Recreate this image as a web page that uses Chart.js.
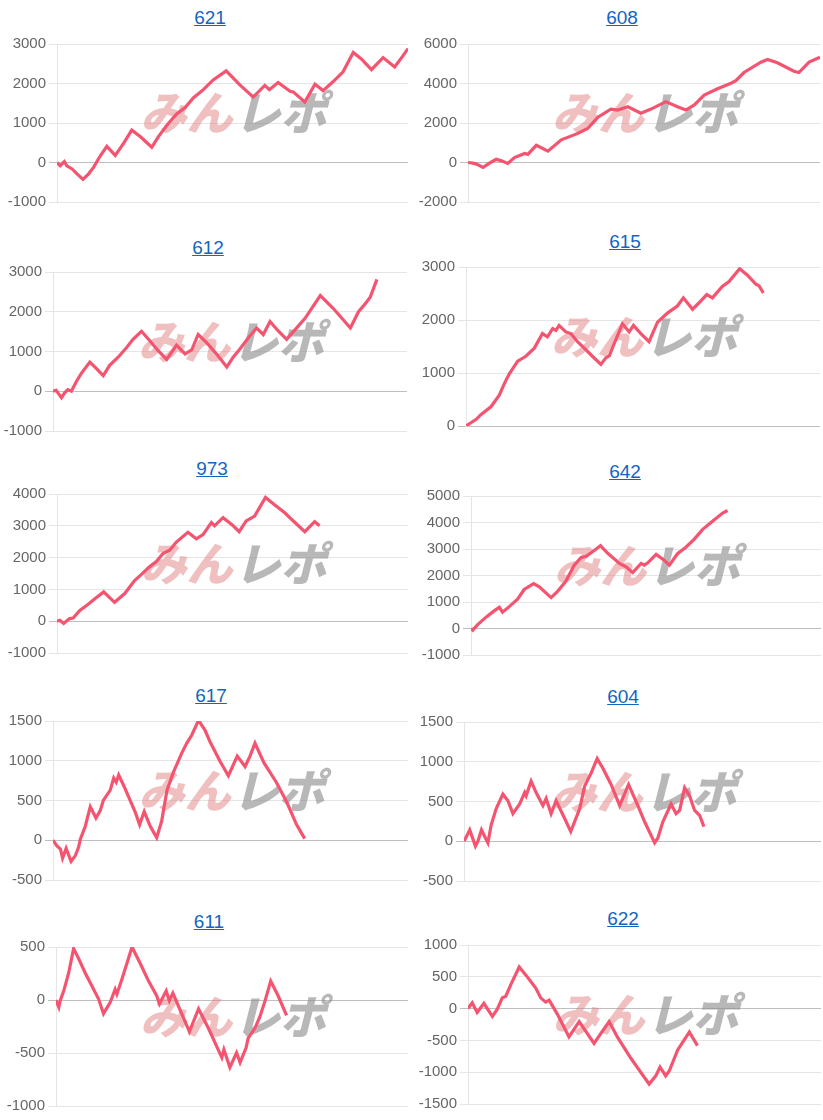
<!DOCTYPE html>
<html>
<head>
<meta charset="utf-8">
<script src="https://cdn.jsdelivr.net/npm/chart.js@4.4.1/dist/chart.umd.min.js"></script>
<style>
  body { margin: 0; background: #fff; width: 823px; height: 1120px; position: relative; overflow: hidden; }
  .ttl { position: absolute; width: 120px; text-align: center; font: 19px "Liberation Sans", Arial, sans-serif; }
  .ttl a { color: #1565c0; text-decoration: underline; }
  canvas { position: absolute; }
</style>
</head>
<body>
<script>
// machine numbers
const titles = ['621', '608', '612', '615', '973', '642', '617', '604', '611', '622'];

// y axis ranges [min, max, step]
const yRanges = [
  [-1000, 3000, 1000], [-2000, 6000, 2000],
  [-1000, 3000, 1000], [0, 3000, 1000],
  [-1000, 4000, 1000], [-1000, 5000, 1000],
  [-500, 1500, 500],   [-500, 1500, 500],
  [-1000, 500, 500],   [-1500, 1000, 500]
];

// series: [progress %, 差枚]
const s621 = [[0,0],[0.9,-82],[2.1,25],[2.8,-82],[4.3,-164],[5.7,-287],[7.4,-426],[9.0,-287],[10.4,-123],[12.3,164],[14.2,410],[16.6,180],[19.0,492],[21.3,820],[23.7,656],[27.0,385],[28.9,656],[31.3,943],[34.1,1230],[36.5,1393],[38.9,1639],[41.7,1844],[44.5,2090],[48.2,2320],[52.1,1967],[55.9,1656],[59.2,1951],[60.5,1844],[63.0,2025],[66.4,1803],[67.3,1787],[70.6,1533],[73.5,1984],[75.8,1820],[78.7,2049],[81.5,2295],[84.4,2787],[86.7,2623],[89.6,2352],[92.9,2656],[96.2,2418],[98.6,2705],[100,2885]];
const s608 = [[0,0],[1.4,-33],[2.4,-82],[4.3,-246],[6.1,-33],[8.0,164],[9.5,82],[11.3,-49],[13.2,246],[16.1,459],[17.0,410],[19.4,869],[22.7,574],[26.5,1147],[31.2,1475],[34.0,1721],[36.9,2295],[40.6,2704],[42.5,2655],[45.4,2820],[49.1,2491],[52.0,2704],[56.2,3081],[59.5,2820],[61.9,2655],[64.3,2918],[67.1,3410],[70.9,3737],[74.7,4016],[76.1,4147],[78.4,4557],[83.2,5081],[85.1,5212],[87.9,5048],[92.6,4622],[94.0,4557],[96.9,5081],[100,5327]];
const s612 = [[0,0],[0.9,24],[1.4,-41],[2.4,-163],[3.3,-41],[4.2,41],[5.2,0],[6.6,245],[8.0,449],[10.4,734],[11.8,612],[14.2,392],[16.0,653],[18.4,857],[20.8,1102],[22.6,1306],[25.0,1510],[27.4,1265],[29.7,1020],[32.1,800],[34.9,1159],[37.3,938],[39.2,1044],[41.0,1428],[43.4,1224],[46.2,938],[49.1,612],[50.9,857],[52.8,1061],[55.2,1347],[57.5,1591],[59.4,1428],[61.3,1754],[63.7,1510],[66.0,1306],[68.4,1550],[71.2,1836],[75.5,2407],[79.2,2081],[84.0,1591],[86.3,2000],[88.2,2203],[89.6,2366],[91.5,2815]];
const s615 = [[0,0],[1.4,61],[2.8,122],[4.2,214],[7.1,367],[9.4,581],[10.8,796],[12.2,979],[14.6,1224],[16.9,1316],[19.3,1469],[21.6,1744],[23.0,1683],[24.5,1836],[25.4,1805],[26.3,1897],[28.2,1775],[29.6,1744],[31.5,1591],[33.4,1469],[35.7,1316],[38.1,1163],[39.5,1285],[40.5,1328],[41.9,1561],[44.2,1928],[46.1,1775],[47.3,1897],[49.4,1744],[51.7,1591],[54.1,1958],[56.9,2130],[59.7,2264],[61.4,2418],[64.0,2203],[66.3,2356],[68.0,2479],[69.6,2418],[72.4,2632],[74.3,2724],[77.3,2968],[79.5,2846],[81.8,2681],[82.8,2644],[84.0,2509]];
const s973 = [[0,0],[0.8,31],[1.9,-72],[3.6,82],[4.6,102],[6.5,338],[8.8,522],[10.7,696],[13.3,922],[16.4,594],[19.3,870],[22.1,1280],[24.0,1464],[25.9,1669],[28.3,1874],[30.2,2130],[32.1,2232],[34.0,2488],[37.3,2796],[39.7,2591],[41.6,2724],[44.0,3103],[44.9,3000],[47.3,3256],[50.2,3000],[51.9,2816],[53.9,3154],[56.3,3307],[59.4,3891],[62.5,3615],[64.9,3410],[66.8,3205],[70.6,2816],[73.4,3133],[74.8,3000]];
const s642 = [[0,0],[0.5,-61],[1.9,147],[4.3,429],[6.7,675],[8.1,798],[9.0,614],[11.0,834],[13.3,1104],[15.2,1472],[17.9,1693],[19.5,1571],[22.9,1166],[24.8,1411],[27.1,1779],[29.5,2393],[31.4,2675],[32.9,2724],[35.2,2945],[37.0,3129],[39.0,2847],[42.4,2454],[44.3,2331],[46.2,2110],[48.6,2454],[49.5,2393],[50.5,2479],[52.9,2798],[55.2,2577],[56.7,2393],[59.0,2822],[61.4,3068],[63.8,3375],[66.2,3742],[69.0,4049],[71.9,4356],[73.3,4454]];
const s617 = [[0,0],[1.1,-70],[2.1,-111],[2.7,-226],[3.7,-103],[5.1,-267],[6.3,-193],[7.2,-90],[7.7,12],[9.1,176],[10.5,422],[12.1,279],[13.3,373],[14.2,504],[16.1,627],[17.1,783],[17.8,730],[18.5,820],[19.9,689],[21.3,545],[23.1,361],[24.4,197],[25.7,361],[27.4,176],[29.2,33],[30.6,238],[32.1,627],[33.9,853],[36.3,1099],[37.7,1222],[39.1,1324],[41.0,1509],[42.8,1386],[44.2,1242],[47.0,996],[49.4,812],[51.9,1058],[54.1,927],[55.5,1058],[56.9,1222],[59.4,976],[62.9,730],[65.8,484],[68.6,197],[70.9,20]];
const s604 = [[0,0],[0.7,61],[1.6,143],[3.2,-61],[3.9,0],[4.9,143],[6.0,41],[6.7,-20],[7.6,204],[9.0,408],[10.9,592],[12.3,510],[13.7,347],[15.6,469],[17.0,612],[17.4,571],[18.8,755],[20.2,612],[22.1,449],[23.0,539],[24.4,347],[25.8,510],[28.2,286],[29.9,122],[32.4,408],[33.8,694],[35.6,857],[37.3,1040],[38.9,918],[41.2,714],[43.6,449],[46.1,714],[48.7,449],[50.6,245],[53.4,-20],[54.3,41],[55.7,245],[58.0,469],[59.4,347],[60.4,388],[61.8,673],[63.2,571],[64.6,388],[66.0,326],[67.2,184]];
const s611 = [[0,0],[0.8,-68],[1.2,-6],[2.2,86],[3.6,255],[5.0,485],[6.4,393],[8.3,255],[10.2,132],[12.1,9],[13.5,-129],[15.4,-21],[16.8,101],[17.3,55],[18.7,193],[21.6,500],[23.9,347],[26.3,178],[28.6,40],[29.4,-37],[31.3,86],[32.2,-6],[33.2,64],[35.3,-98],[37.9,-298],[40.5,-83],[43.3,-267],[45.2,-405],[47.1,-543],[47.7,-467],[49.4,-635],[51.3,-497],[52.3,-589],[54.0,-451],[54.6,-359],[56.5,-267],[57.9,-160],[59.4,-6],[61.0,178],[63.1,40],[65.5,-144]];
const s622 = [[0,0],[1.2,92],[2.6,-61],[4.5,82],[6.9,-123],[8.3,-10],[9.7,169],[10.7,194],[12.1,373],[14.5,654],[16.4,526],[19.2,322],[20.6,169],[22.0,102],[23.0,133],[25.3,-87],[28.6,-445],[31.5,-204],[35.7,-547],[37.6,-393],[40.0,-204],[42.3,-445],[46.1,-777],[49.0,-1007],[51.3,-1186],[53.2,-1058],[54.4,-920],[56.0,-1058],[57.0,-982],[59.4,-649],[62.7,-368],[65.0,-583]];

const series = [s621, s608, s612, s615, s973, s642, s617, s604, s611, s622];

// plot boxes on the page: [left, top, right, bottom, titleCenterX, titleTop]
const boxes = [
  [57, 42, 408, 204, 210, 7],    [468, 42, 820, 204, 622, 7],
  [53, 270, 407, 433, 208, 237], [466, 265, 820, 428, 625, 231],
  [57, 492, 408, 655, 212, 458], [471, 494, 821, 657, 625, 461],
  [53, 719, 408, 882, 211, 685], [464, 720, 821, 883, 623, 686],
  [56, 945, 408, 1108, 209, 911],[468, 943, 821, 1106, 623, 908]
];

const AXIS_W = 52, PAD = 10, PAD_R = 2;

// watermark logo behind the line
const watermark = {
  id: 'watermark',
  beforeDatasetsDraw(chart) {
    const a = chart.chartArea;
    const cx = (a.left + a.right) / 2;
    const cy = (a.top + a.bottom) / 2 - 10;
    const c = chart.ctx;
    c.save();
    c.font = 'italic 900 46px "Noto Sans CJK JP"';
    c.textBaseline = 'middle';
    c.textAlign = 'right';
    c.fillStyle = 'rgba(226,130,130,0.5)';
    c.fillText('みん', cx, cy);
    c.textAlign = 'left';
    c.fillStyle = 'rgba(140,140,140,0.62)';
    c.fillText('レポ', cx + 2, cy);
    c.restore();
  }
};

titles.forEach((t, i) => {
  const [l, tp, r, b, tx, ty] = boxes[i];
  const [ymin, ymax, step] = yRanges[i];

  const head = document.createElement('div');
  head.className = 'ttl';
  head.style.left = (tx - 60) + 'px';
  head.style.top = ty + 'px';
  head.innerHTML = '<a href="#">' + t + '</a>';
  document.body.appendChild(head);

  const cv = document.createElement('canvas');
  const cl = l - AXIS_W;
  cv.width = r - cl + PAD_R;
  cv.height = b - tp + PAD * 2;
  cv.style.left = cl + 'px';
  cv.style.top = (tp - PAD) + 'px';
  document.body.appendChild(cv);

  new Chart(cv.getContext('2d'), {
    type: 'line',
    data: {
      datasets: [{
        data: series[i],
        borderColor: '#f4546f',
        borderWidth: 3.2,
        pointRadius: 0,
        tension: 0,
        fill: false
      }]
    },
    options: {
      responsive: false,
      animation: false,
      layout: { padding: { top: PAD, bottom: PAD, left: 0, right: PAD_R } },
      plugins: { legend: { display: false }, tooltip: { enabled: false } },
      scales: {
        x: { type: 'linear', min: 0, max: 100, display: false },
        y: {
          min: ymin,
          max: ymax,
          afterFit: s => { s.width = AXIS_W; },
          ticks: {
            stepSize: step,
            color: '#666',
            font: { family: '"Liberation Sans", Arial, sans-serif', size: 15 },
            callback: v => String(v)
          },
          grid: {
            color: c => (c.tick && c.tick.value === 0) ? 'rgba(0,0,0,0.25)' : 'rgba(0,0,0,0.1)'
          },
          border: { color: 'rgba(0,0,0,0.1)' }
        }
      }
    },
    plugins: [watermark]
  });
});
</script>
</body>
</html>
